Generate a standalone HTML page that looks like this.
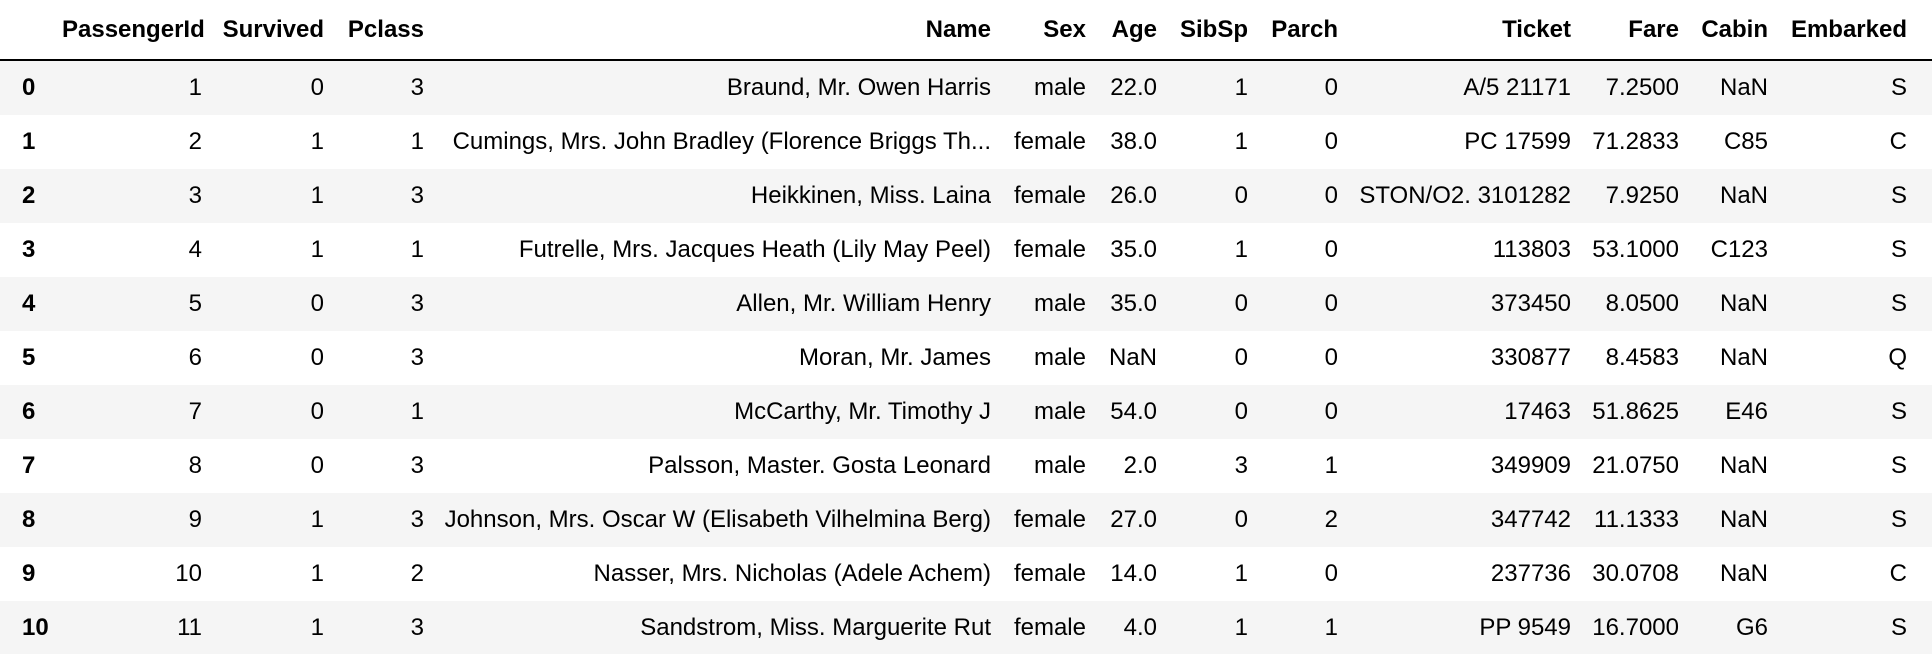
<!DOCTYPE html>
<html><head><meta charset="utf-8"><style>
html,body{margin:0;padding:0;background:#fff;width:1932px;height:654px;overflow:hidden}
table{border-collapse:collapse;table-layout:fixed;width:1932px;font-family:"Liberation Sans",Arial,sans-serif;font-size:24px;color:#000}
th,td{padding:0 12px 0 0;text-align:right;white-space:nowrap;overflow:visible;vertical-align:middle}
thead th{height:59px;border-bottom:2px solid #000;font-weight:bold}
tbody td,tbody th{height:54px}
tbody th{text-align:left;padding-left:22px;font-weight:bold}
tbody tr:nth-child(odd){background:#f5f5f5}
</style></head><body>
<table>
<colgroup><col style="width:62px"><col style="width:152px"><col style="width:122px"><col style="width:100px"><col style="width:567px"><col style="width:95px"><col style="width:71px"><col style="width:91px"><col style="width:90px"><col style="width:233px"><col style="width:108px"><col style="width:89px"><col style="width:152px"></colgroup>
<thead><tr>
<th></th>
<th>PassengerId</th>
<th>Survived</th>
<th>Pclass</th>
<th>Name</th>
<th>Sex</th>
<th>Age</th>
<th>SibSp</th>
<th>Parch</th>
<th>Ticket</th>
<th>Fare</th>
<th>Cabin</th>
<th style="padding-right:25px">Embarked</th>
</tr></thead>
<tbody>
<tr><th>0</th><td>1</td><td>0</td><td>3</td><td>Braund, Mr. Owen Harris</td><td>male</td><td>22.0</td><td>1</td><td>0</td><td>A/5 21171</td><td>7.2500</td><td>NaN</td><td style="padding-right:25px">S</td></tr>
<tr><th>1</th><td>2</td><td>1</td><td>1</td><td>Cumings, Mrs. John Bradley (Florence Briggs Th...</td><td>female</td><td>38.0</td><td>1</td><td>0</td><td>PC 17599</td><td>71.2833</td><td>C85</td><td style="padding-right:25px">C</td></tr>
<tr><th>2</th><td>3</td><td>1</td><td>3</td><td>Heikkinen, Miss. Laina</td><td>female</td><td>26.0</td><td>0</td><td>0</td><td>STON/O2. 3101282</td><td>7.9250</td><td>NaN</td><td style="padding-right:25px">S</td></tr>
<tr><th>3</th><td>4</td><td>1</td><td>1</td><td>Futrelle, Mrs. Jacques Heath (Lily May Peel)</td><td>female</td><td>35.0</td><td>1</td><td>0</td><td>113803</td><td>53.1000</td><td>C123</td><td style="padding-right:25px">S</td></tr>
<tr><th>4</th><td>5</td><td>0</td><td>3</td><td>Allen, Mr. William Henry</td><td>male</td><td>35.0</td><td>0</td><td>0</td><td>373450</td><td>8.0500</td><td>NaN</td><td style="padding-right:25px">S</td></tr>
<tr><th>5</th><td>6</td><td>0</td><td>3</td><td>Moran, Mr. James</td><td>male</td><td>NaN</td><td>0</td><td>0</td><td>330877</td><td>8.4583</td><td>NaN</td><td style="padding-right:25px">Q</td></tr>
<tr><th>6</th><td>7</td><td>0</td><td>1</td><td>McCarthy, Mr. Timothy J</td><td>male</td><td>54.0</td><td>0</td><td>0</td><td>17463</td><td>51.8625</td><td>E46</td><td style="padding-right:25px">S</td></tr>
<tr><th>7</th><td>8</td><td>0</td><td>3</td><td>Palsson, Master. Gosta Leonard</td><td>male</td><td>2.0</td><td>3</td><td>1</td><td>349909</td><td>21.0750</td><td>NaN</td><td style="padding-right:25px">S</td></tr>
<tr><th>8</th><td>9</td><td>1</td><td>3</td><td>Johnson, Mrs. Oscar W (Elisabeth Vilhelmina Berg)</td><td>female</td><td>27.0</td><td>0</td><td>2</td><td>347742</td><td>11.1333</td><td>NaN</td><td style="padding-right:25px">S</td></tr>
<tr><th>9</th><td>10</td><td>1</td><td>2</td><td>Nasser, Mrs. Nicholas (Adele Achem)</td><td>female</td><td>14.0</td><td>1</td><td>0</td><td>237736</td><td>30.0708</td><td>NaN</td><td style="padding-right:25px">C</td></tr>
<tr><th>10</th><td>11</td><td>1</td><td>3</td><td>Sandstrom, Miss. Marguerite Rut</td><td>female</td><td>4.0</td><td>1</td><td>1</td><td>PP 9549</td><td>16.7000</td><td>G6</td><td style="padding-right:25px">S</td></tr>
</tbody></table>
</body></html>
